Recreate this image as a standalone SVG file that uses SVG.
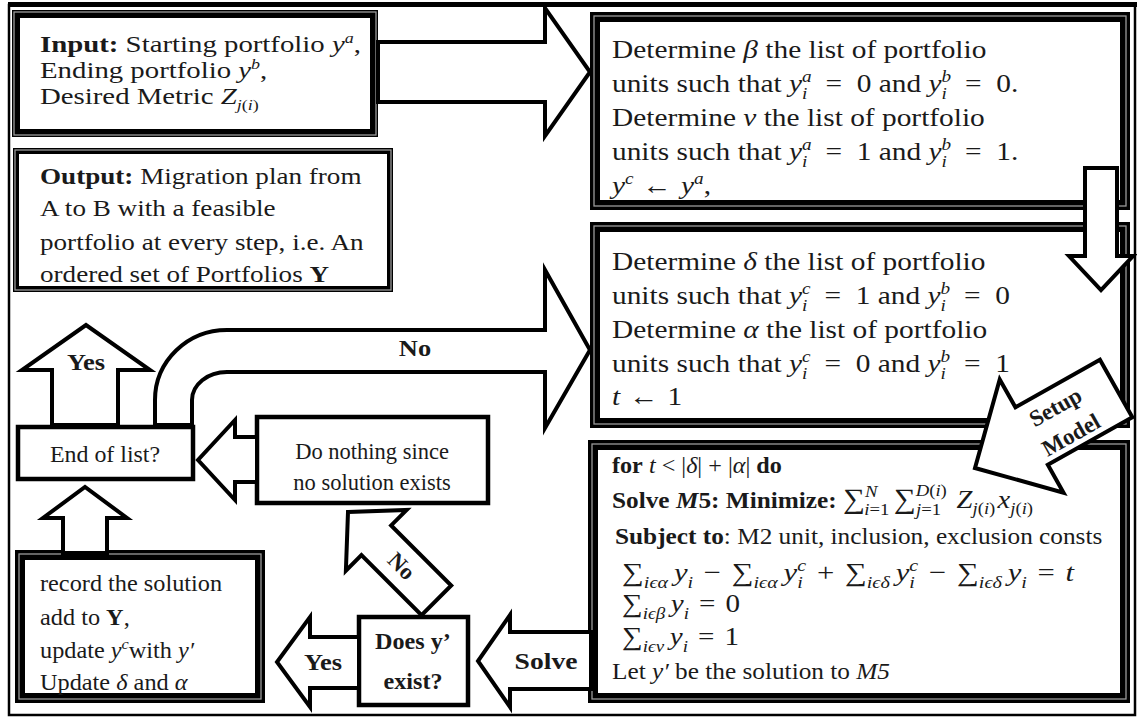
<svg xmlns="http://www.w3.org/2000/svg" width="1137" height="719" viewBox="0 0 1137 719">
  <style>
    .t { font-family: "Liberation Serif", "DejaVu Serif", serif; font-size: 23px; fill: #1a1a1a; }
    .b { font-weight: bold; }
    .i { font-style: italic; }
    .s { font-size: 15px; }
    .s2 { font-size: 17px; }
    .big { font-size: 26px; }
    .box { fill: #fff; stroke: #000; stroke-width: 4.5; }
    .heavy { fill: #fff; stroke: #000; stroke-width: 10; }
    .seam { fill: none; stroke: #9a9a9a; stroke-width: 1.3; }
    .arr { fill: #fff; stroke: #000; stroke-width: 4; stroke-linejoin: miter; }
  </style>

  <rect x="0" y="0" width="1137" height="719" fill="#fff"/>
  <!-- outer frame -->
  <rect x="9" y="5" width="1126" height="710" fill="none" stroke="#000" stroke-width="2.5"/>
  <line x1="8" y1="4.5" x2="1137" y2="4.5" stroke="#000" stroke-width="5"/>

  <g id="nodes">
    <g id="input">
      <rect class="heavy" x="16" y="14" width="358" height="119" style="stroke-width:8"/>
      <rect class="seam" x="14" y="12" width="362" height="123"/>
      <g transform="translate(40,0) scale(1.2,1)">
        <text class="t" y="52" style="font-size:24px"><tspan class="b">Input:</tspan> Starting portfolio <tspan class="i">y</tspan><tspan class="s i" dy="-9">a</tspan><tspan dy="9">,</tspan></text>
        <text class="t" y="78" style="font-size:24px">Ending portfolio <tspan class="i">y</tspan><tspan class="s i" dy="-9">b</tspan><tspan dy="9">,</tspan></text>
        <text class="t" y="104" style="font-size:24px">Desired Metric <tspan class="i">Z</tspan><tspan class="s i" dy="6">j</tspan><tspan class="s">(</tspan><tspan class="s i">i</tspan><tspan class="s">)</tspan></text>
      </g>
    </g>

    <g id="output">
      <rect class="box" x="16" y="151" width="374" height="138" style="stroke-width:6"/>
      <rect class="seam" x="15" y="150" width="376" height="140"/>
      <g transform="translate(40,0) scale(1.13,1)">
        <text class="t" y="184" style="font-size:24px"><tspan class="b">Output:</tspan> Migration plan from</text>
        <text class="t" y="216" style="font-size:24px">A to B with a feasible</text>
        <text class="t" y="250" style="font-size:24px">portfolio at every step, i.e. An</text>
        <text class="t" y="282" style="font-size:24px">ordered set of Portfolios <tspan class="b">Y</tspan></text>
      </g>
    </g>

    <g id="determine-beta-nu">
      <rect class="heavy" x="595" y="17" width="530" height="188"/>
      <rect class="seam" x="594" y="16" width="532" height="190"/>
      <g transform="translate(612,0) scale(1.13,1)">
        <text class="t big" y="58">Determine <tspan class="i">β</tspan> the list of portfolio</text>
        <text class="t big" y="92">units such that <tspan class="i">y</tspan><tspan class="s2 i" dy="-10">a</tspan><tspan class="s2 i" dx="-8.5" dy="17">i</tspan><tspan dx="16" dy="-7">=</tspan><tspan dx="13">0 and </tspan><tspan class="i">y</tspan><tspan class="s2 i" dy="-10">b</tspan><tspan class="s2 i" dx="-8.5" dy="17">i</tspan><tspan dx="16" dy="-7">=</tspan><tspan dx="13">0.</tspan></text>
        <text class="t big" y="126">Determine <tspan class="i">ν</tspan> the list of portfolio</text>
        <text class="t big" y="160">units such that <tspan class="i">y</tspan><tspan class="s2 i" dy="-10">a</tspan><tspan class="s2 i" dx="-8.5" dy="17">i</tspan><tspan dx="16" dy="-7">=</tspan><tspan dx="13">1 and </tspan><tspan class="i">y</tspan><tspan class="s2 i" dy="-10">b</tspan><tspan class="s2 i" dx="-8.5" dy="17">i</tspan><tspan dx="16" dy="-7">=</tspan><tspan dx="13">1.</tspan></text>
        <text class="t big" y="194"><tspan class="i">y</tspan><tspan class="s2 i" dy="-10">c</tspan><tspan dx="8" dy="10">←</tspan><tspan class="i" dx="8">y</tspan><tspan class="s2 i" dy="-10">a</tspan><tspan dy="10">,</tspan></text>
      </g>
    </g>

    <g id="determine-delta-alpha">
      <rect class="heavy" x="595" y="227" width="530" height="196"/>
      <rect class="seam" x="594" y="226" width="532" height="198"/>
      <g transform="translate(612,0) scale(1.13,1)">
        <text class="t big" y="270">Determine <tspan class="i">δ</tspan> the list of portfolio</text>
        <text class="t big" y="304">units such that <tspan class="i">y</tspan><tspan class="s2 i" dy="-10">c</tspan><tspan class="s2 i" dx="-7.5" dy="17">i</tspan><tspan dx="15" dy="-7">=</tspan><tspan dx="13">1 and </tspan><tspan class="i">y</tspan><tspan class="s2 i" dy="-10">b</tspan><tspan class="s2 i" dx="-8.5" dy="17">i</tspan><tspan dx="16" dy="-7">=</tspan><tspan dx="13">0</tspan></text>
        <text class="t big" y="338">Determine <tspan class="i">α</tspan> the list of portfolio</text>
        <text class="t big" y="372">units such that <tspan class="i">y</tspan><tspan class="s2 i" dy="-10">c</tspan><tspan class="s2 i" dx="-7.5" dy="17">i</tspan><tspan dx="15" dy="-7">=</tspan><tspan dx="13">0 and </tspan><tspan class="i">y</tspan><tspan class="s2 i" dy="-10">b</tspan><tspan class="s2 i" dx="-8.5" dy="17">i</tspan><tspan dx="16" dy="-7">=</tspan><tspan dx="13">1</tspan></text>
        <text class="t big" y="405"><tspan class="i">t</tspan><tspan dx="8">←</tspan><tspan dx="8">1</tspan></text>
      </g>
    </g>

    <g id="loop-model">
      <rect class="heavy" x="593" y="445" width="532" height="253"/>
      <rect class="seam" x="592" y="444" width="534" height="255"/>
      <g transform="translate(612,0) scale(1.05,1)">
        <text class="t" y="473"><tspan class="b">for</tspan> <tspan class="i">t</tspan> &lt; |<tspan class="i">δ</tspan>| + |<tspan class="i">α</tspan>| <tspan class="b">do</tspan></text>
      </g>
      <g transform="translate(612,0) scale(1.1,1)">
        <text class="t" y="508"><tspan class="b">Solve </tspan><tspan class="b i">M</tspan><tspan class="b">5: Minimize: </tspan><tspan style="font-size:28px">∑</tspan><tspan class="s2 i" dy="-11">N</tspan><tspan class="s2" dx="-12" dy="18"><tspan class="i">i</tspan>=1</tspan><tspan style="font-size:28px" dx="4" dy="-7">∑</tspan><tspan class="s2" dy="-12"><tspan class="i">D</tspan>(<tspan class="i">i</tspan>)</tspan><tspan class="s2" dx="-28" dy="19"><tspan class="i">j</tspan>=1</tspan><tspan class="big i" dx="14" dy="-7">Z</tspan><tspan class="s2" dy="6"><tspan class="i">j</tspan>(<tspan class="i">i</tspan>)</tspan><tspan class="big i" dx="2" dy="-6">x</tspan><tspan class="s2" dy="6"><tspan class="i">j</tspan>(<tspan class="i">i</tspan>)</tspan></text>
      </g>
      <g transform="translate(615,0) scale(1.1,1)">
        <text class="t" y="544"><tspan class="b">Subject to</tspan>: M2 unit, inclusion, exclusion consts</text>
      </g>
      <g transform="translate(622,0) scale(1.18,1)">
        <text class="t big" y="581">∑<tspan class="s2 i" dy="7">iϵα</tspan><tspan class="i" dx="5" dy="-7">y</tspan><tspan class="s2 i" dy="7">i</tspan><tspan dx="9" dy="-7">−</tspan><tspan dx="9">∑</tspan><tspan class="s2 i" dy="7">iϵα</tspan><tspan class="i" dx="5" dy="-7">y</tspan><tspan class="s2 i" dy="-10">c</tspan><tspan class="s2 i" dx="-7.5" dy="17">i</tspan><tspan dx="12" dy="-7">+</tspan><tspan dx="9">∑</tspan><tspan class="s2 i" dy="7">iϵδ</tspan><tspan class="i" dx="5" dy="-7">y</tspan><tspan class="s2 i" dy="-10">c</tspan><tspan class="s2 i" dx="-7.5" dy="17">i</tspan><tspan dx="12" dy="-7">−</tspan><tspan dx="9">∑</tspan><tspan class="s2 i" dy="7">iϵδ</tspan><tspan class="i" dx="5" dy="-7">y</tspan><tspan class="s2 i" dy="7">i</tspan><tspan dx="9" dy="-7">=</tspan><tspan class="i" dx="9">t</tspan></text>
      </g>
      <g transform="translate(622,0) scale(1.12,1)">
        <text class="t big" y="612">∑<tspan class="s2 i" dy="7">iϵβ</tspan><tspan class="i" dx="5" dy="-7">y</tspan><tspan class="s2 i" dy="7">i</tspan><tspan dx="9" dy="-7">=</tspan><tspan dx="9">0</tspan></text>
        <text class="t big" y="645">∑<tspan class="s2 i" dy="7">iϵν</tspan><tspan class="i" dx="5" dy="-7">y</tspan><tspan class="s2 i" dy="7">i</tspan><tspan dx="9" dy="-7">=</tspan><tspan dx="9">1</tspan></text>
      </g>
      <g transform="translate(612,0) scale(1.1,1)">
        <text class="t" y="679">Let <tspan class="i">y′</tspan> be the solution to <tspan class="i">M5</tspan></text>
      </g>
    </g>

    <g id="end-of-list">
      <rect class="box" x="18" y="427" width="175" height="52"/>
      <g transform="translate(105,0) scale(1.04,1)">
        <text class="t" y="462" text-anchor="middle">End of list?</text>
      </g>
    </g>

    <g id="do-nothing">
      <rect class="box" x="257" y="417" width="231" height="86"/>
      <g transform="translate(372,0)">
        <text class="t" y="459" text-anchor="middle" style="font-size:22.5px">Do nothing since</text>
        <text class="t" y="490" text-anchor="middle" style="font-size:22.5px">no solution exists</text>
      </g>
    </g>

    <g id="record">
      <rect class="heavy" x="20" y="555" width="240" height="143"/>
      <rect class="seam" x="19" y="554" width="242" height="145"/>
      <g transform="translate(40,0) scale(1.08,1)">
        <text class="t" y="591" style="font-size:22.5px">record the solution</text>
        <text class="t" y="625" style="font-size:22.5px">add to <tspan class="b">Y</tspan>,</text>
        <text class="t" y="658" style="font-size:22.5px">update <tspan class="i">y</tspan><tspan class="s i" dy="-9">c</tspan><tspan dy="9">with </tspan><tspan class="i">y′</tspan></text>
        <text class="t" y="690" style="font-size:22.5px">Update <tspan class="i">δ</tspan> and <tspan class="i">α</tspan></text>
      </g>
    </g>

    <g id="does-exist">
      <rect class="box" x="359" y="617" width="109" height="88"/>
      <g transform="translate(413,0) scale(1.05,1)">
        <text class="t b" y="649" text-anchor="middle">Does y’</text>
        <text class="t b" y="689" text-anchor="middle">exist?</text>
      </g>
    </g>
  </g>

  <g id="connectors">
    <!-- input to first determination step -->
    <path class="arr" d="M378,42 H545 V8 L590,72 L545,136 V102 H378 Z"/>
    <!-- first to second determination step -->
    <path class="arr" d="M1085,168 H1117 V256 H1133 L1101,290 L1069,256 H1085 Z"/>
    <!-- end of list: No, back to the loop -->
    <path class="arr" d="M155,425 V400 A72,70 0 0 1 227,330 H545 V270 L590,350 L545,428 V372 H227 A35,28 0 0 0 192,400 V425 Z"/>
    <g transform="translate(415,0) scale(1.15,1)">
      <text class="t b" y="356" text-anchor="middle">No</text>
    </g>
    <!-- end of list: Yes, to output -->
    <path class="arr" d="M52,425 V370 H22 L86,325 L150,370 H118 V425 Z"/>
    <g transform="translate(86,0) scale(1.15,1)">
      <text class="t b" y="370" text-anchor="middle">Yes</text>
    </g>
    <!-- do nothing to end of list -->
    <path class="arr" d="M257,437 H235 V420 L198,460 L235,500 V482 H257 Z"/>
    <!-- record to end of list -->
    <path class="arr" d="M63,553 V518 H43 L85,487 L127,518 H107 V553 Z"/>
    <!-- does y' exist: Yes -->
    <path class="arr" d="M359,637 H310 V617 L277,662 L310,707 V688 H359 Z"/>
    <g transform="translate(323,0) scale(1.15,1)">
      <text class="t b" y="670" text-anchor="middle">Yes</text>
    </g>
    <!-- model to decision: Solve -->
    <path class="arr" d="M591,632 H510 V615 L478,661 L510,707 V689 H591 Z"/>
    <g transform="translate(546,0) scale(1.2,1)">
      <text class="t b" y="669" text-anchor="middle">Solve</text>
    </g>
    <!-- does y' exist: No -->
    <g transform="translate(348,512) rotate(-45)">
      <path class="arr" d="M0,0 L43,40 L21,40 L21,125 L-21,125 L-21,40 L-43,40 Z"/>
      <text class="t b" transform="translate(0,76) rotate(90)" y="8" text-anchor="middle">No</text>
    </g>
    <!-- setup model -->
    <g transform="translate(975,468) rotate(-29.4)">
      <path class="arr" d="M0,0 L65,-65 L65,-33 L162,-33 L162,33 L65,33 L65,65 Z"/>
      <text class="t b" x="100" y="-6" text-anchor="middle">Setup</text>
      <text class="t b" x="100" y="26" text-anchor="middle">Model</text>
    </g>
  </g>
</svg>
